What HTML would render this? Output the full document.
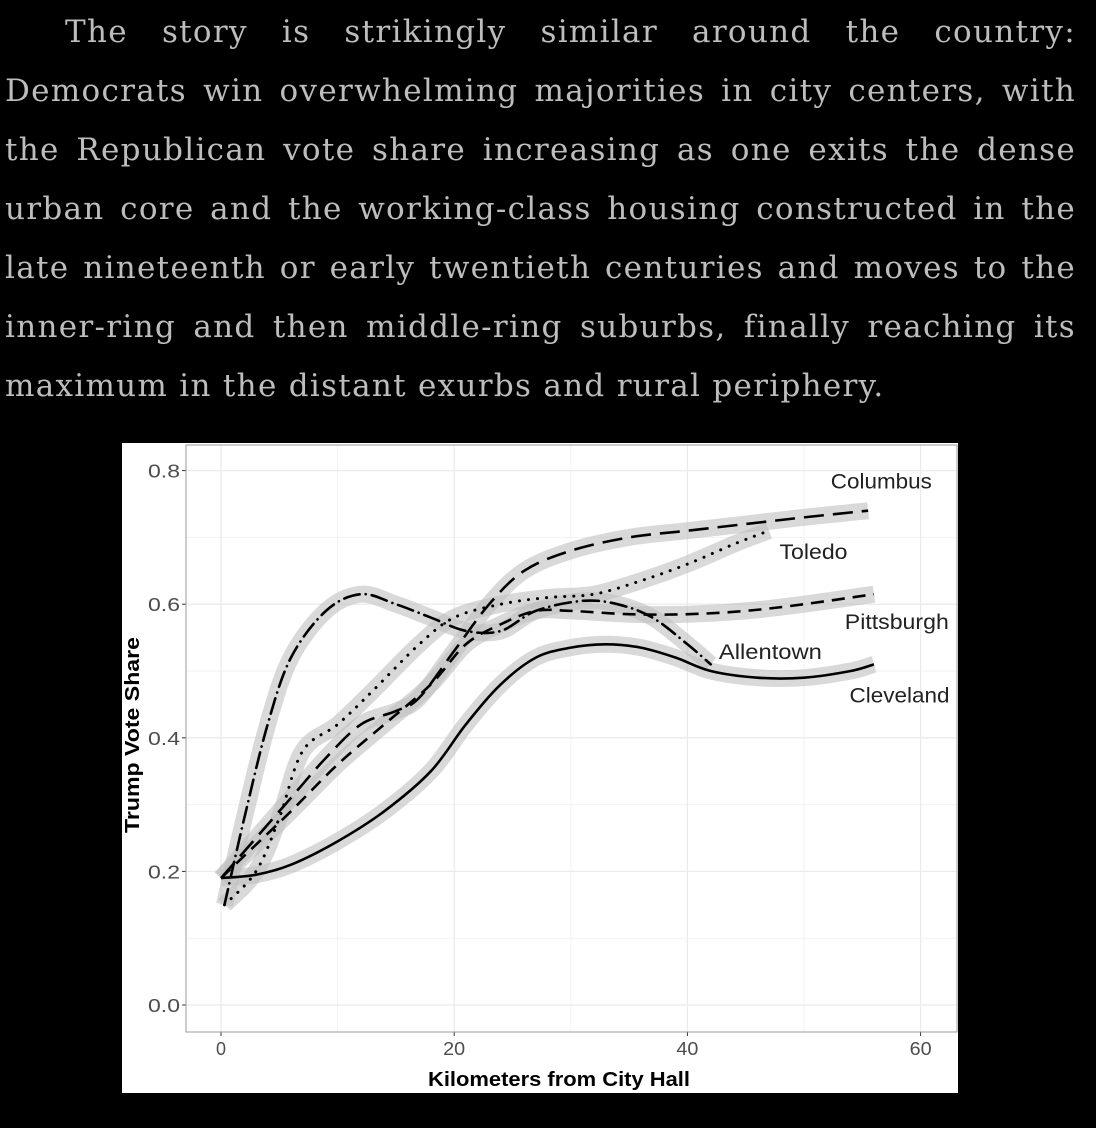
<!DOCTYPE html>
<html><head><meta charset="utf-8">
<style>
html,body{margin:0;padding:0;background:#000;width:1096px;height:1128px;overflow:hidden}
.p{position:absolute;left:5px;width:1071px;font-family:"DejaVu Serif","Liberation Serif",serif;font-size:31px;letter-spacing:1.3px;color:#bdbdbd;line-height:59px}
.l{display:block;text-align:justify;text-align-last:justify;white-space:nowrap;height:59px}
.l.last{text-align-last:left}
#chart{position:absolute;left:122px;top:443px;width:836px;height:650px;background:#fff}
</style></head><body>
<div class="p" style="top:3px">
<span class="l" style="padding-left:60px;box-sizing:border-box;white-space:normal">The story is strikingly similar around the country:</span>
<span class="l">Democrats win overwhelming majorities in city centers, with</span>
<span class="l">the Republican vote share increasing as one exits the dense</span>
<span class="l">urban core and the working-class housing constructed in the</span>
<span class="l">late nineteenth or early twentieth centuries and moves to the</span>
<span class="l">inner-ring and then middle-ring suburbs, finally reaching its</span>
<span class="l last">maximum in the distant exurbs and rural periphery.</span>
</div>
<div id="chart">
<svg id="svg" width="836" height="650" xmlns="http://www.w3.org/2000/svg"></svg>
</div>
<script>
const xTicks=[0,20,40,60];
const yTicks=[0.0,0.2,0.4,0.6,0.8];
const cityNames=["Columbus","Toledo","Pittsburgh","Allentown","Cleveland"];
const columbusX=[0,3,6,9,12,15,17,20,23,26,30,35,40,45,50,55.5];
const columbusY=[0.19,0.25,0.31,0.37,0.42,0.44,0.46,0.53,0.60,0.65,0.68,0.70,0.71,0.72,0.73,0.74];
const toledoX=[0.3,3,5,7,10,13,17,20,24,28,32,36,40,44,47];
const toledoY=[0.15,0.20,0.28,0.38,0.42,0.47,0.54,0.58,0.60,0.61,0.615,0.635,0.66,0.69,0.71];
const pittsburghX=[0,3,6,10,14,18,21,24,27,30,35,40,45,50,56];
const pittsburghY=[0.19,0.24,0.29,0.36,0.42,0.48,0.54,0.57,0.59,0.59,0.585,0.585,0.59,0.60,0.615];
const allentownX=[0.3,2,4,6,9,12,15,18,21,24,27,31,34,37,40,42];
const allentownY=[0.15,0.28,0.42,0.52,0.59,0.615,0.60,0.58,0.56,0.56,0.59,0.605,0.60,0.58,0.54,0.51];
const clevelandX=[0,3,6,10,14,18,21,24,27,30,33,36,39,42,46,50,54,56];
const clevelandY=[0.19,0.195,0.21,0.245,0.29,0.35,0.42,0.48,0.52,0.535,0.54,0.535,0.52,0.50,0.49,0.49,0.50,0.51];
const labelX=[52.3,47.9,53.5,42.7,53.9];
const labelY=[0.785,0.68,0.575,0.53,0.465];

const OX=122,OY=443;
const px=k=>221+k*11.66-OX;
const py=v=>1005-v*668-OY;
const NS="http://www.w3.org/2000/svg";
const svg=document.getElementById('svg');
function mk(t,a){const e=document.createElementNS(NS,t);for(const k in a)e.setAttribute(k,a[k]);svg.appendChild(e);return e;}
const PL=64,PR=835,PT=2,PB=589;
const labelW={Columbus:101,Toledo:68,Pittsburgh:104,Allentown:103,Cleveland:100};
for(let v=0.1;v<0.85;v+=0.2){const g=mk('line',{x1:PL,x2:PR,y1:py(v),y2:py(v),stroke:'#f2f2f2','stroke-width':1});}
for(let k=10;k<65;k+=20){const g=mk('line',{x1:px(k),x2:px(k),y1:PT,y2:PB,stroke:'#f2f2f2','stroke-width':1});}
yTicks.forEach(v=>{const g=mk('line',{x1:PL,x2:PR,y1:py(v),y2:py(v),stroke:'#ebebeb','stroke-width':1.3});
 const t=mk('line',{x1:PL-4,x2:PL,y1:py(v),y2:py(v),stroke:'#333'});
 const l=mk('text',{x:PL-6,y:py(v)+7,'text-anchor':'end','font-family':'Liberation Sans,sans-serif','font-size':18,fill:'#4d4d4d',textLength:32,lengthAdjust:'spacingAndGlyphs'});l.textContent=v.toFixed(1);});
xTicks.forEach(k=>{const g=mk('line',{x1:px(k),x2:px(k),y1:PT,y2:PB,stroke:'#ebebeb','stroke-width':1.3});
 const t=mk('line',{x1:px(k),x2:px(k),y1:PB,y2:PB+4,stroke:'#333'});
 const s=String(k);const a={x:px(k),y:PB+23,'text-anchor':'middle','font-family':'Liberation Sans,sans-serif','font-size':18,fill:'#4d4d4d'};
 if(s.length>1){a.textLength=22;a.lengthAdjust='spacingAndGlyphs';}
 const l=mk('text',a);l.textContent=s;});
const border=mk('rect',{x:PL,y:PT,width:PR-PL,height:PB-PT,fill:'none',stroke:'#999','stroke-width':1});

function path(X,Y){const P=X.map((x,i)=>[px(x),py(Y[i])]);let d='M'+P[0][0]+','+P[0][1];
 for(let i=0;i<P.length-1;i++){const p0=P[Math.max(0,i-1)],p1=P[i],p2=P[i+1],p3=P[Math.min(P.length-1,i+2)];
 d+=' C'+(p1[0]+(p2[0]-p0[0])/6)+','+(p1[1]+(p2[1]-p0[1])/6)+' '+(p2[0]-(p3[0]-p1[0])/6)+','+(p2[1]-(p3[1]-p1[1])/6)+' '+p2[0]+','+p2[1];}return d;}
const series=[[columbusX,columbusY,'20,9','butt',2.6],[toledoX,toledoY,'0.1,9','round',3],[pittsburghX,pittsburghY,'13,8','butt',2.6],[allentownX,allentownY,'16,6,0.1,6','round',2.6],[clevelandX,clevelandY,'','butt',2.6]];
series.forEach((s,i)=>{const r=mk('path',{d:path(s[0],s[1]),fill:'none',stroke:'#bfbfbf','stroke-opacity':0.6,'stroke-width':17,'stroke-linecap':'butt'});
 });
series.forEach((s,i)=>{const a={d:path(s[0],s[1]),fill:'none',stroke:'#000','stroke-width':s[4],'stroke-linecap':s[3]};if(s[2])a['stroke-dasharray']=s[2];
 const l=mk('path',a);
 const t=mk('text',{x:px(labelX[i]),y:py(labelY[i])+8,'text-anchor':'start','font-family':'Liberation Sans,sans-serif','font-size':21,fill:'#222',textLength:labelW[cityNames[i]],lengthAdjust:'spacingAndGlyphs'});t.textContent=cityNames[i];
 });
const xt=mk('text',{x:437,y:643,'text-anchor':'middle','font-family':'Liberation Sans,sans-serif','font-size':20,'font-weight':'bold',fill:'#000',textLength:262,lengthAdjust:'spacingAndGlyphs'});xt.textContent='Kilometers from City Hall';

const yt=mk('text',{x:0,y:0,transform:'translate(17,292) rotate(-90)','text-anchor':'middle','font-family':'Liberation Sans,sans-serif','font-size':20,'font-weight':'bold',fill:'#000',textLength:196,lengthAdjust:'spacingAndGlyphs'});yt.textContent='Trump Vote Share';

</script>
</body></html>
